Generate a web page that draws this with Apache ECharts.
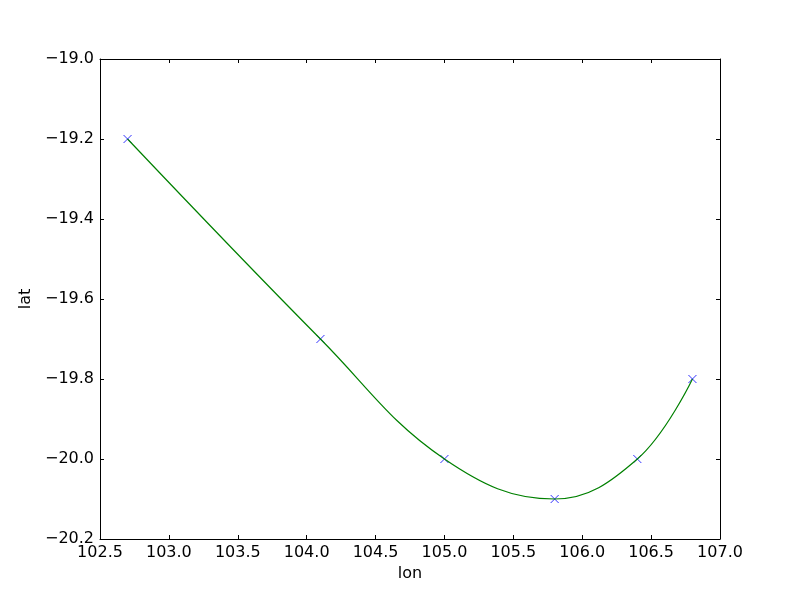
<!DOCTYPE html>
<html>
<head>
<meta charset="utf-8">
<script src="https://cdn.jsdelivr.net/npm/echarts@6/dist/echarts.min.js"></script>
<style>html,body{margin:0;padding:0;background:#fff}#c{width:800px;height:600px}</style>
</head>
<body>
<div id="c"></div>
<script>
const lon = [102.7, 104.1, 105.0, 105.8, 106.4, 106.8];
const lat = [-19.2, -19.7, -20.0, -20.1, -20.0, -19.8];
const xTicks = [102.5, 103.0, 103.5, 104.0, 104.5, 105.0, 105.5, 106.0, 106.5, 107.0];
const yTicks = [-20.2, -20.0, -19.8, -19.6, -19.4, -19.2, -19.0];

const pts = lon.map((x, i) => [x, lat[i]]);
const font = 'DejaVu Sans';
const fmt = v => (v < 0 ? '\u2212' : '') + Math.abs(v).toFixed(1);

const baseAxis = {
  type: 'value',
  axisLine: { show: true, onZero: false, lineStyle: { color: '#000', width: 1 } },
  axisTick: { show: true, inside: true, length: 4, lineStyle: { color: '#000' } },
  splitLine: { show: false }
};

const chart = echarts.init(document.getElementById('c'));
chart.setOption({
  animation: false,
  backgroundColor: '#fff',
  grid: { left: 100, right: 80, top: 59, bottom: 61, containLabel: false },
  xAxis: [
    Object.assign({}, baseAxis, {
      min: xTicks[0], max: xTicks[xTicks.length - 1], interval: 0.5,
      position: 'bottom',
      name: 'lon', nameLocation: 'middle', nameGap: 24,
      nameTextStyle: { fontFamily: font, fontSize: 16, color: '#000', verticalAlign: 'top' },
      axisLabel: { fontFamily: font, fontSize: 16, color: '#000', margin: 6, formatter: fmt }
    }),
    Object.assign({}, baseAxis, {
      min: xTicks[0], max: xTicks[xTicks.length - 1], interval: 0.5,
      position: 'top', axisLabel: { show: false }
    })
  ],
  yAxis: [
    Object.assign({}, baseAxis, {
      min: yTicks[0], max: yTicks[yTicks.length - 1], interval: 0.2,
      position: 'left',
      name: 'lat', nameLocation: 'middle', nameGap: 60, nameRotate: 90,
      nameTextStyle: { fontFamily: font, fontSize: 16, color: '#000' },
      axisLabel: { fontFamily: font, fontSize: 16, color: '#000', margin: 6, formatter: fmt }
    }),
    Object.assign({}, baseAxis, {
      min: yTicks[0], max: yTicks[yTicks.length - 1], interval: 0.2,
      position: 'right', axisLabel: { show: false }
    })
  ],
  series: [
    {
      type: 'scatter',
      data: pts,
      symbol: 'path://M0,0L10,10M10,0L0,10',
      symbolSize: 8,
      itemStyle: { color: 'none', borderColor: '#0000ff', borderWidth: 1 },
      z: 2
    },
    {
      type: 'line',
      data: pts,
      smooth: 0.4,
      showSymbol: false,
      lineStyle: { color: '#008000', width: 1.2 },
      z: 3
    }
  ]
});
</script>
</body>
</html>
